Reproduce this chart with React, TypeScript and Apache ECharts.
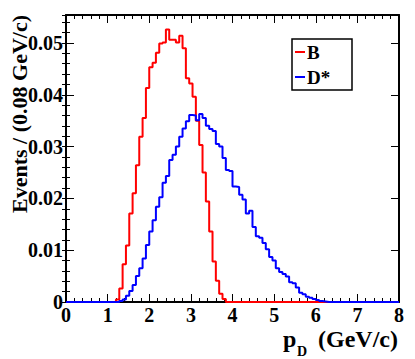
import React, { useEffect, useRef } from "react";
import * as echarts from "echarts";

// Histogram binning: 100 bins of 0.08 GeV/c from 0 to 8
const BIN_WIDTH = 0.08;
const X_MIN = 0;
const X_MAX = 8;
const Y_MAX = 0.0554;

const xTickLabels = ["0", "1", "2", "3", "4", "5", "6", "7", "8"];
const yTickLabels = ["0", "0.01", "0.02", "0.03", "0.04", "0.05"];

const seriesNames = ["B", "D*"];

// B (red) histogram contents, bin by bin
const bValues = [
  0, 0, 0, 0, 0, 0, 0, 0, 0, 0,
  0, 0, 0, 0, 0, 0.0005, 0.0026, 0.0073, 0.0109, 0.0171,
  0.0210, 0.0264, 0.0319, 0.0355, 0.0413, 0.0453, 0.0462, 0.0481, 0.0499, 0.0501,
  0.0526, 0.0506, 0.0506, 0.0501, 0.0514, 0.0490, 0.0432, 0.0422, 0.0396, 0.0350,
  0.0303, 0.0250, 0.0194, 0.0136, 0.0078, 0.0041, 0.0016, 0.0006, 0, 0,
  0, 0, 0, 0, 0, 0, 0, 0, 0, 0,
  0, 0, 0, 0, 0, 0, 0, 0, 0, 0,
  0, 0, 0, 0, 0, 0, 0, 0, 0, 0,
  0, 0, 0, 0, 0, 0, 0, 0, 0, 0,
  0, 0, 0, 0, 0, 0, 0, 0, 0, 0,
];

// D* (blue) histogram contents, bin by bin
const dStarValues = [
  0, 0, 0, 0, 0, 0, 0, 0, 0, 0,
  0, 0, 0, 0, 0, 0, 0.0002, 0.0005, 0.0012, 0.0021,
  0.0033, 0.0050, 0.0065, 0.0084, 0.0110, 0.0136, 0.0158, 0.0184, 0.0202, 0.0230,
  0.0243, 0.0274, 0.0284, 0.0300, 0.0319, 0.0335, 0.0349, 0.0361, 0.0360, 0.0351,
  0.0363, 0.0355, 0.0340, 0.0334, 0.0330, 0.0305, 0.0300, 0.0278, 0.0255, 0.0253,
  0.0223, 0.0222, 0.0207, 0.0198, 0.0171, 0.0176, 0.0145, 0.0127, 0.0124, 0.0114,
  0.0102, 0.0087, 0.0080, 0.0065, 0.0058, 0.0054, 0.0049, 0.0038, 0.0036, 0.0028,
  0.0018, 0.0015, 0.0010, 0.0008, 0.0006, 0.0004, 0.0002, 0.0001, 0, 0,
  0, 0, 0, 0, 0, 0, 0, 0, 0, 0,
  0, 0, 0, 0, 0, 0, 0, 0, 0, 0,
];

const FONT = "'Liberation Serif', 'DejaVu Serif', serif";

function toSteps(vals: number[]) {
  const pts: [number, number][] = vals.map((v, i) => [
    Number((X_MIN + i * BIN_WIDTH).toFixed(2)),
    v,
  ]);
  pts.push([X_MAX, vals[vals.length - 1]]);
  return pts;
}

export default function App() {
  const ref = useRef<HTMLDivElement>(null);

  useEffect(() => {
    if (!ref.current) return;
    const chart = echarts.init(ref.current, undefined, { renderer: "svg" });

    const grid = { left: 66, top: 15, width: 333, height: 287 };
    const axisLine = { show: true, onZero: false, lineStyle: { color: "#000", width: 2 } };

    const xLabelFmt = (v: number) => {
      const idx = Math.round(v);
      return Math.abs(v - idx) < 1e-6 && idx >= 0 && idx < xTickLabels.length ? xTickLabels[idx] : "";
    };
    const yLabelFmt = (v: number) => {
      const idx = Math.round(v / 0.01);
      return Math.abs(v - idx * 0.01) < 1e-9 && idx < yTickLabels.length ? yTickLabels[idx] : "";
    };

    const xCommon = {
      type: "value" as const,
      min: X_MIN,
      max: X_MAX,
      interval: 1,
      splitLine: { show: false },
      axisLine,
      axisTick: { show: true, inside: true, length: 8, lineStyle: { color: "#000", width: 1 } },
      minorTick: { show: true, splitNumber: 5, length: 4, lineStyle: { color: "#000", width: 1 } },
    };

    const yMajor = {
      type: "value" as const,
      min: 0,
      max: Y_MAX,
      interval: 0.01,
      splitLine: { show: false },
      axisLine,
      axisTick: { show: true, inside: true, length: 8, lineStyle: { color: "#000", width: 1 } },
    };
    const yMinor = {
      type: "value" as const,
      min: 0,
      max: Y_MAX,
      interval: 0.002,
      splitLine: { show: false },
      axisLine: { show: false },
      axisLabel: { show: false },
      axisTick: { show: true, inside: true, length: 4, lineStyle: { color: "#000", width: 1 } },
    };

    chart.setOption({
      animation: false,
      backgroundColor: "#fff",
      grid,
      xAxis: [
        {
          ...xCommon,
          position: "bottom",
          axisLabel: {
            show: true,
            margin: 3,
            color: "#000",
            fontFamily: FONT,
            fontWeight: "bold",
            fontSize: 20,
            formatter: xLabelFmt,
          },
        },
        {
          ...xCommon,
          position: "top",
          axisLabel: { show: false },
        },
      ],
      yAxis: [
        {
          ...yMajor,
          position: "left",
          axisLabel: {
            show: true,
            margin: 3,
            color: "#000",
            fontFamily: FONT,
            fontWeight: "bold",
            fontSize: 20,
            showMaxLabel: false,
            formatter: yLabelFmt,
          },
        },
        { ...yMajor, position: "right", axisLabel: { show: false } },
        { ...yMinor, position: "left" },
        { ...yMinor, position: "right" },
      ],
      series: [
        {
          name: seriesNames[0],
          type: "line",
          step: "end",
          xAxisIndex: 0,
          yAxisIndex: 0,
          showSymbol: false,
          symbol: "none",
          lineStyle: { color: "#ff0000", width: 2 },
          data: toSteps(bValues),
        },
        {
          name: seriesNames[1],
          type: "line",
          step: "end",
          xAxisIndex: 0,
          yAxisIndex: 0,
          showSymbol: false,
          symbol: "none",
          lineStyle: { color: "#0000ff", width: 2 },
          data: toSteps(dStarValues),
        },
      ],
      graphic: [
        {
          type: "text",
          x: 19,
          y: 15,
          rotation: Math.PI / 2,
          style: {
            text: "Events / (0.08 GeV/c)",
            align: "right",
            verticalAlign: "middle",
            fontFamily: FONT,
            fontWeight: "bold",
            fontSize: 22,
            fill: "#000",
          },
        },
        {
          type: "text",
          x: 398,
          y: 351,
          style: {
            text: "(GeV/c)",
            align: "right",
            verticalAlign: "bottom",
            fontFamily: FONT,
            fontWeight: "bold",
            fontSize: 24,
            fill: "#000",
          },
        },
        {
          type: "text",
          x: 283,
          y: 351,
          style: {
            text: "p",
            align: "left",
            verticalAlign: "bottom",
            fontFamily: FONT,
            fontWeight: "bold",
            fontSize: 24,
            fill: "#000",
          },
        },
        {
          type: "text",
          x: 297,
          y: 358,
          style: {
            text: "D",
            align: "left",
            verticalAlign: "bottom",
            fontFamily: FONT,
            fontWeight: "bold",
            fontSize: 14,
            fill: "#000",
          },
        },
        {
          type: "rect",
          shape: { x: 292, y: 39, width: 60, height: 51 },
          style: { fill: "#fff", stroke: "#000", lineWidth: 1.5 },
        },
        {
          type: "line",
          shape: { x1: 295, y1: 52, x2: 305, y2: 52 },
          style: { stroke: "#ff0000", lineWidth: 2 },
        },
        {
          type: "text",
          x: 307,
          y: 52,
          style: {
            text: seriesNames[0],
            align: "left",
            verticalAlign: "middle",
            fontFamily: FONT,
            fontWeight: "bold",
            fontSize: 19,
            fill: "#000",
          },
        },
        {
          type: "line",
          shape: { x1: 295, y1: 77, x2: 305, y2: 77 },
          style: { stroke: "#0000ff", lineWidth: 2 },
        },
        {
          type: "text",
          x: 307,
          y: 77,
          style: {
            text: seriesNames[1],
            align: "left",
            verticalAlign: "middle",
            fontFamily: FONT,
            fontWeight: "bold",
            fontSize: 19,
            fill: "#000",
          },
        },
      ],
    });

    return () => chart.dispose();
  }, []);

  return (
    <div
      ref={ref}
      style={{ position: "absolute", left: 0, top: 0, width: 415, height: 359 }}
    />
  );
}
